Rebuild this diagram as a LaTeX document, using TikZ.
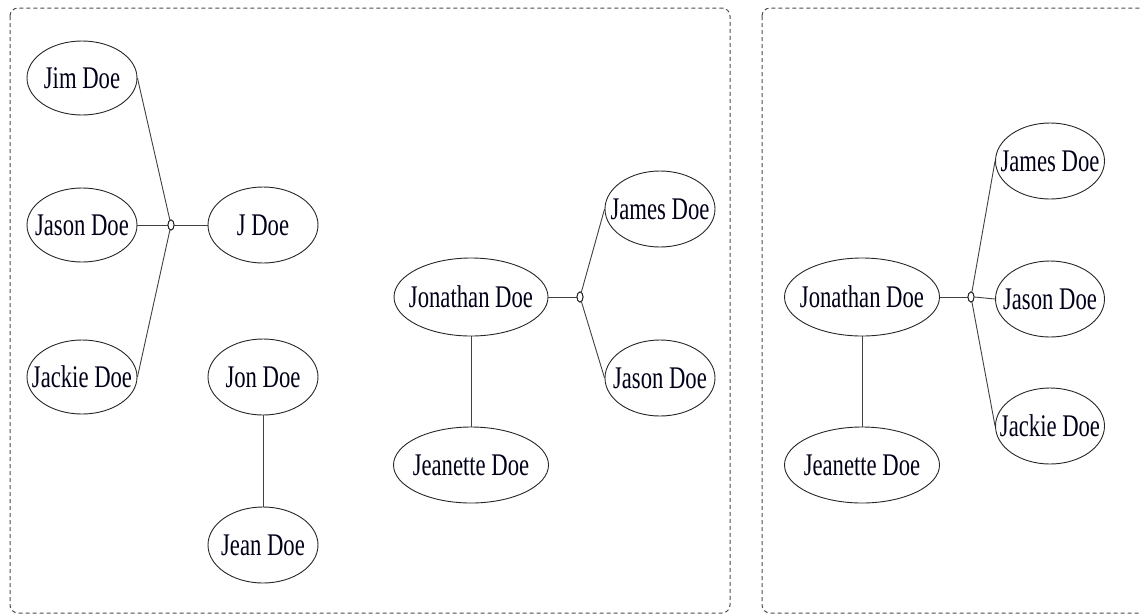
\documentclass[tikz,border=0pt]{standalone}
\usepackage{fontspec}
\newfontfamily\nodefont[FakeStretch=0.72]{Liberation Serif}
\usetikzlibrary{shapes.geometric}
\tikzset{
  person/.style={ellipse, draw=black!85, line width=0.9pt, inner sep=0pt, minimum width=110pt, minimum height=76pt,
    label={[font=\nodefont\fontsize{31.5}{32}\selectfont, text=black!90!blue, inner sep=0pt]center:#1}},
  junction/.style={ellipse, draw=black!85, line width=0.9pt, fill=white, minimum width=6pt, minimum height=10pt, inner sep=0pt},
  link/.style={draw=black!75, line width=0.9pt},
  panel/.style={draw=black!70, dash pattern=on 4pt off 3pt, line width=1pt, rounded corners=8pt}
}
\begin{document}
\begin{tikzpicture}[x=1pt,y=-1pt]
\useasboundingbox (0,0) rectangle (1140,614);
\clip (0,0) rectangle (1140,614);
% panels
\draw[panel] (10,8) rectangle (730,613);
\draw[panel] (762,8) rectangle (1160,613);
% left panel
\node[person={Jim Doe}, minimum height=74pt] (jim) at (82,78) {};
\node[person={Jason Doe}, minimum height=74pt] (jason1) at (82,225) {};
\node[person={Jackie Doe}, minimum height=74pt] (jackie1) at (82,377) {};
\node[person={J Doe}] (jdoe) at (263,225) {};
\node[junction] (j1) at (171,225) {};
\node[person={Jon Doe}] (jon) at (263,377) {};
\node[person={Jean Doe}] (jean) at (263,545) {};
\node[person={Jonathan Doe}, minimum width=154pt, minimum height=78pt] (jonathan1) at (471,297) {};
\node[person={Jeanette Doe}, minimum width=155pt] (jeanette1) at (471,465) {};
\node[person={James Doe}] (james1) at (660,209) {};
\node[person={Jason Doe}] (jason2) at (660,378) {};
\node[junction] (j2) at (580,297) {};
% right panel
\node[person={Jonathan Doe}, minimum width=155pt, minimum height=78pt] (jonathan2) at (862,297) {};
\node[person={Jeanette Doe}, minimum width=155pt] (jeanette2) at (862,465) {};
\node[person={James Doe}, minimum width=109pt] (james2) at (1050,161) {};
\node[person={Jason Doe}, minimum width=109pt] (jason3) at (1050,299) {};
\node[person={Jackie Doe}, minimum width=109pt] (jackie2) at (1050,426) {};
\node[junction] (j3) at (971,297) {};
% links
\draw[link] (jim.east) -- (j1);
\draw[link] (jason1.east) -- (j1.west);
\draw[link] (jackie1.east) -- (j1);
\draw[link] (j1.east) -- (jdoe.west);
\draw[link] (jon.south) -- (jean.north);
\draw[link] (jonathan1.east) -- (j2.west);
\draw[link] (j2) -- (james1.west);
\draw[link] (j2) -- (jason2.west);
\draw[link] (jonathan1.south) -- (jeanette1.north);
\draw[link] (jonathan2.east) -- (j3.west);
\draw[link] (j3) -- (james2.west);
\draw[link] (j3.east) -- (jason3.west);
\draw[link] (j3) -- (jackie2.west);
\draw[link] (jonathan2.south) -- (jeanette2.north);
% junctions drawn on top of the links
\node[junction] at (j1) {};
\node[junction] at (j2) {};
\node[junction] at (j3) {};
\end{tikzpicture}
\end{document}
